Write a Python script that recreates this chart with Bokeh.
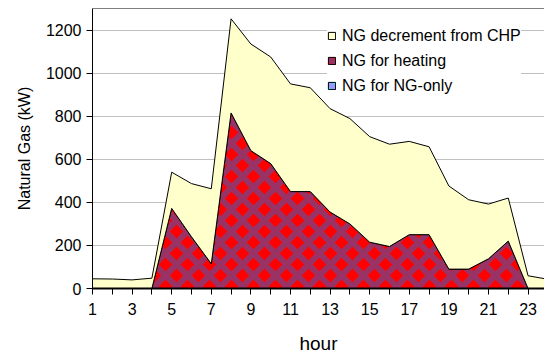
from bokeh.embed import file_html
from bokeh.models import (FixedTicker, Legend, LegendItem, Range1d, Span)
from bokeh.plotting import figure
from bokeh.resources import INLINE

# Hourly natural gas use (kW), stacked bottom to top
hours = [1, 2, 3, 4, 5, 6, 7, 8, 9, 10, 11, 12,
         13, 14, 15, 16, 17, 18, 19, 20, 21, 22, 23, 24]
ng_only = [0, 0, 0, 0, 0, 0, 0, 0, 0, 0, 0, 0,
           0, 0, 0, 0, 0, 0, 0, 0, 0, 0, 0, 0]
heating = [0, 0, 0, 0, 372, 240, 115, 815, 640, 580, 450, 450,
           355, 300, 215, 195, 250, 250, 90, 90, 138, 220, 0, 0]
decrement = [45, 44, 40, 48, 168, 247, 348, 437, 495, 495, 500, 482,
             480, 489, 490, 475, 433, 408, 386, 322, 254, 200, 59, 43]

series_labels = ["NG decrement from CHP", "NG for heating", "NG for NG-only"]
y_ticks = [0, 200, 400, 600, 800, 1000, 1200]
x_labelled = [1, 3, 5, 7, 9, 11, 13, 15, 17, 19, 21, 23]
x_unlabelled = [2, 4, 6, 8, 10, 12, 14, 16, 18, 20, 22, 24]

FONT = "Liberation Sans"

# cumulative band edges
lower_heat = list(ng_only)
upper_heat = [a + b for a, b in zip(lower_heat, heating)]
upper_dec = [a + b for a, b in zip(upper_heat, decrement)]
zero = [0] * len(hours)


def band(lower, upper):
    return hours + hours[::-1], upper + lower[::-1]


p = figure(width=544, height=356, output_backend="svg", toolbar_location=None,
           x_range=Range1d(1, 23.83), y_range=Range1d(0, 1300),
           min_border_left=92, min_border_right=0,
           min_border_top=8, min_border_bottom=68)
p.background_fill_color = "white"
p.border_fill_color = "white"
p.outline_line_color = None

# stacked bands, each outlined in black; diamond pattern via a crossed hatch
bx, by = band(zero, lower_heat)
r_only = p.patch(bx, by, fill_color="#00FFFF", hatch_pattern="diagonal_cross",
                 hatch_color="#9999FF", hatch_scale=22, hatch_weight=6,
                 line_color="black", line_width=1)
bx, by = band(lower_heat, upper_heat)
r_heat = p.patch(bx, by, fill_color="#FF0000", hatch_pattern="diagonal_cross",
                 hatch_color="#993366", hatch_scale=22, hatch_weight=6,
                 line_color="black", line_width=1)
bx, by = band(upper_heat, upper_dec)
r_dec = p.patch(bx, by, fill_color="#FFFFCC", line_color="black", line_width=1)

# axes
p.xaxis.ticker = FixedTicker(ticks=x_labelled, minor_ticks=x_unlabelled)
p.yaxis.ticker = FixedTicker(ticks=y_ticks)
for ax in (p.xaxis[0], p.yaxis[0]):
    ax.axis_line_color = "black"
    ax.major_tick_line_color = "black"
    ax.minor_tick_line_color = "black"
    ax.major_tick_in = 0
    ax.major_tick_out = 6
    ax.minor_tick_in = 0
    ax.minor_tick_out = 6
    ax.major_label_text_font = FONT
    ax.major_label_text_font_size = "16px"
    ax.major_label_text_color = "black"
    ax.axis_label_text_font = FONT
    ax.axis_label_text_font_style = "normal"
    ax.axis_label_text_color = "black"
p.xaxis.axis_line_width = 2
p.yaxis.minor_tick_line_color = None
p.xaxis.axis_label = "hour"
p.xaxis.axis_label_text_font_size = "19px"
p.xaxis.major_label_standoff = 8
p.xaxis.axis_label_standoff = 15
p.yaxis.axis_label = "Natural Gas (kW)"
p.yaxis.axis_label_text_font_size = "16px"
p.yaxis.major_label_standoff = 5
p.yaxis.axis_label_standoff = 10

p.xgrid.visible = False
p.ygrid.grid_line_color = "#C0C0C0"
p.ygrid.grid_line_width = 1

legend = Legend(items=[LegendItem(label=series_labels[0], renderers=[r_dec]),
                       LegendItem(label=series_labels[1], renderers=[r_heat]),
                       LegendItem(label=series_labels[2], renderers=[r_only])],
                location=(235, 190), padding=5, margin=0, spacing=0,
                glyph_width=9, glyph_height=9, label_standoff=6,
                label_height=25, label_text_font=FONT,
                label_text_font_size="16px", label_text_color="black",
                background_fill_color="white", background_fill_alpha=1,
                border_line_color=None)
p.add_layout(legend)

# frame edge along the top
p.add_layout(Span(location=1300, dimension="width", line_color="black", line_width=1))

open("out.html", "w").write(file_html(p, INLINE))
